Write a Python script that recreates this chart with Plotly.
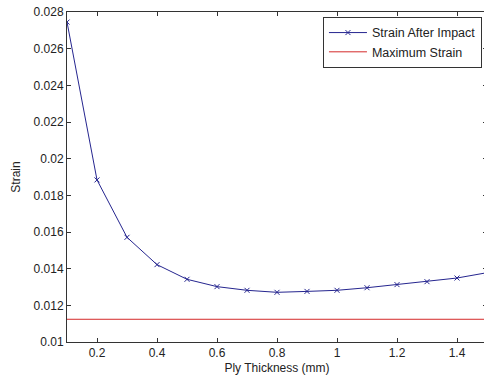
import plotly.graph_objects as go

thickness = [0.1, 0.2, 0.3, 0.4, 0.5, 0.6, 0.7, 0.8, 0.9, 1.0, 1.1, 1.2, 1.3, 1.4, 1.5]
strain_after_impact = [0.02745, 0.01884, 0.01571, 0.01422, 0.01342, 0.01302, 0.01282, 0.01271,
                       0.01276, 0.01282, 0.01296, 0.01313, 0.01329, 0.01349, 0.01378]
max_strain_x = [0.1, 1.5]
max_strain = [0.01124, 0.01124]

x_tickvals = [0.2, 0.4, 0.6, 0.8, 1.0, 1.2, 1.4]
x_ticktext = ["0.2", "0.4", "0.6", "0.8", "1", "1.2", "1.4"]
y_tickvals = [0.01, 0.012, 0.014, 0.016, 0.018, 0.02, 0.022, 0.024, 0.026, 0.028]
y_ticktext = ["0.01", "0.012", "0.014", "0.016", "0.018", "0.02", "0.022", "0.024", "0.026", "0.028"]

FONT = "Liberation Sans, Arial"

fig = go.Figure()
fig.add_trace(go.Scatter(
    x=thickness, y=strain_after_impact, mode="lines+markers", name="Strain After Impact",
    line=dict(color="#25258f", width=1),
    marker=dict(symbol="x-thin", size=5, line=dict(color="#25258f", width=1), color="#25258f"),
))
fig.add_trace(go.Scatter(
    x=max_strain_x, y=max_strain, mode="lines", name="Maximum Strain",
    line=dict(color="#d42a2a", width=1),
))

axis_common = dict(
    showgrid=False, zeroline=False, showline=True, linecolor="#333333", linewidth=1,
    mirror="ticks", ticks="inside", ticklen=4, tickcolor="#333333",
    ticklabeloverflow="allow",
    tickfont=dict(family=FONT, size=12, color="#222222"),
)

fig.update_layout(
    width=487, height=379,
    margin=dict(l=67, r=0, t=12, b=37),
    paper_bgcolor="white", plot_bgcolor="white",
    font=dict(family=FONT, size=12, color="#222222"),
    xaxis=dict(range=[0.1, 1.5], tickvals=x_tickvals, ticktext=x_ticktext,
               title=dict(text="Ply Thickness (mm)", standoff=4, font=dict(size=12)), **axis_common),
    yaxis=dict(range=[0.01, 0.028], tickvals=y_tickvals, ticktext=y_ticktext,
               title=dict(text="Strain", standoff=10, font=dict(size=12)), **axis_common),
    showlegend=True,
    hovermode=False,
    legend=dict(x=0.988, y=0.985, xanchor="right", yanchor="top",
                bgcolor="white", bordercolor="#333333", borderwidth=1,
                font=dict(size=12.5), tracegroupgap=0, itemwidth=38),
)

fig.write_html("out.html", config={"displayModeBar": False},
               post_script="document.body.style.margin='0';document.body.style.overflow='hidden';")
